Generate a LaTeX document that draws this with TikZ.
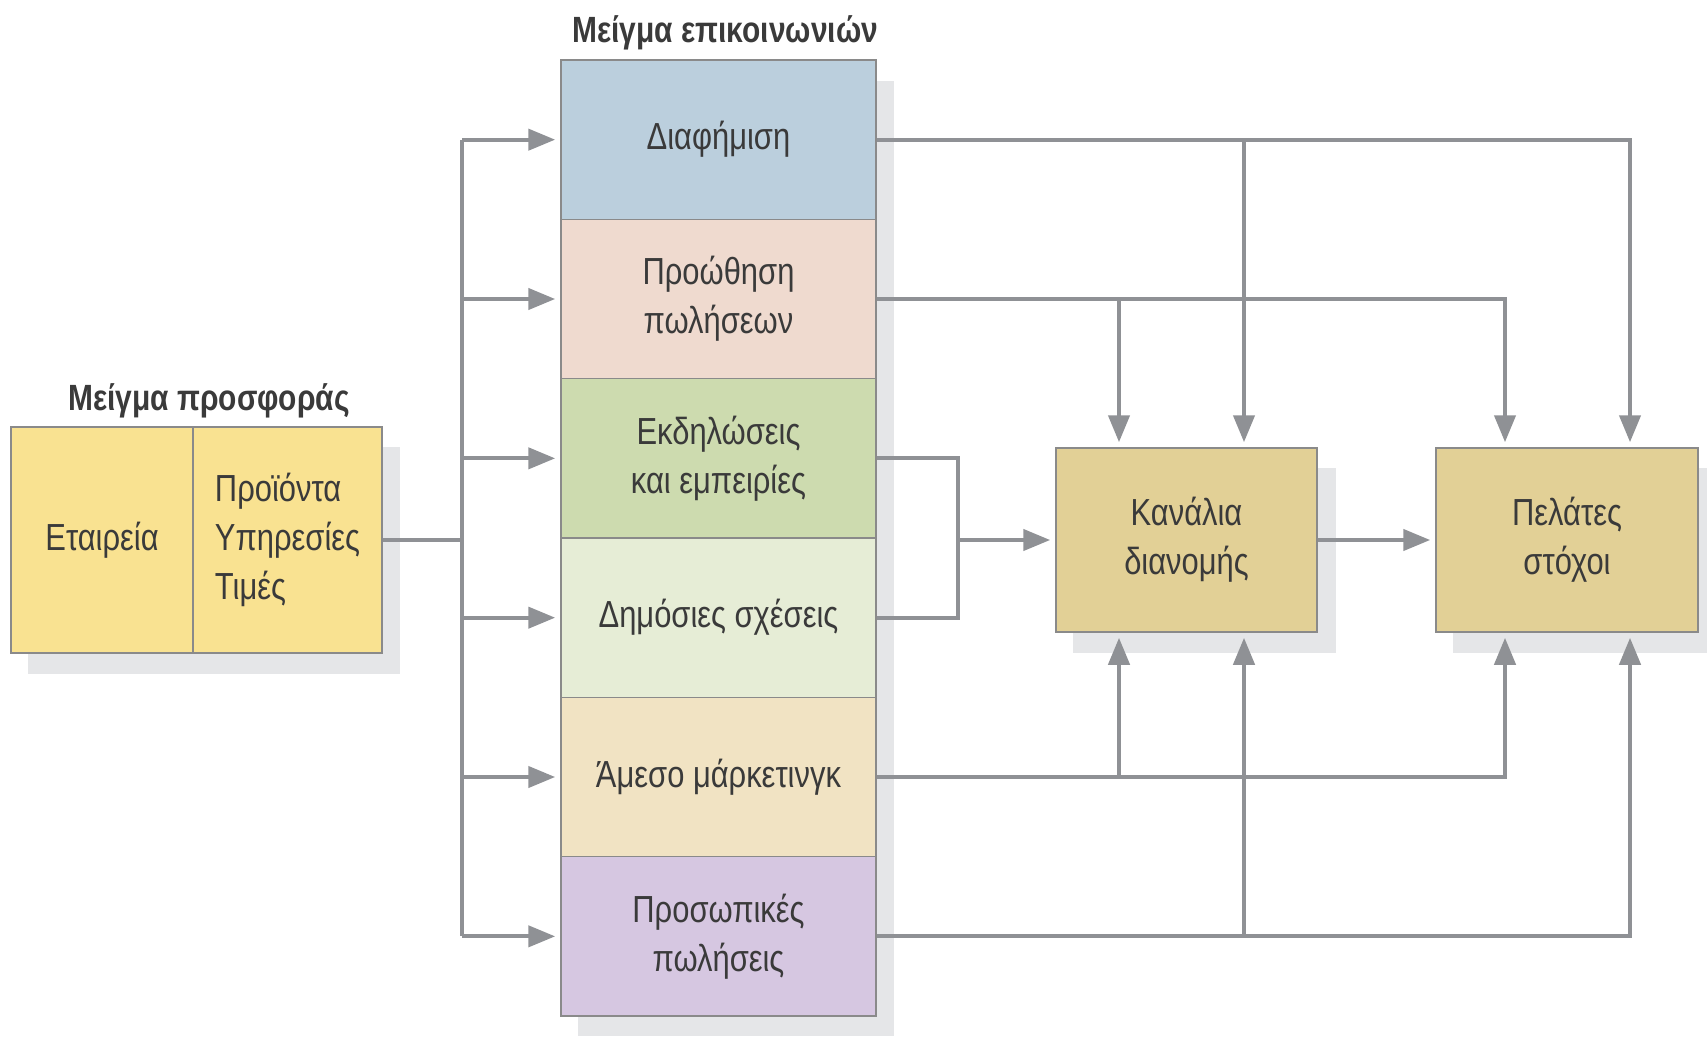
\documentclass[tikz,border=0pt]{standalone}
\usepackage{fontspec}
\setmainfont{Liberation Sans}[FakeStretch=0.82]
\usetikzlibrary{arrows.meta,backgrounds}

\definecolor{linec}{HTML}{8F9195}
\definecolor{edgec}{HTML}{8A8A8A}
\definecolor{shadowc}{HTML}{E5E6E8}
\definecolor{txtc}{HTML}{3A3A3A}
\definecolor{offerc}{HTML}{F9E291}
\definecolor{advc}{HTML}{BBCFDD}
\definecolor{promc}{HTML}{EFDACF}
\definecolor{eventc}{HTML}{CDDBAF}
\definecolor{prc}{HTML}{E6EDD6}
\definecolor{directc}{HTML}{F1E3C3}
\definecolor{sellc}{HTML}{D6C7E1}
\definecolor{targetc}{HTML}{E2D096}

\tikzset{
  txt/.style={font=\fontsize{37.7pt}{49pt}\selectfont, text=txtc, align=center},
  ttl/.style={font=\bfseries\fontsize{36.5pt}{49pt}\selectfont, text=txtc, anchor=base},
  box/.style={txt, draw=edgec, line width=1.5pt, inner sep=0pt},
  rowbox/.style={box, minimum width=315pt, minimum height=159.33pt},
  sidebox/.style={box, fill=targetc, minimum height=184pt},
  wire/.style={draw=linec, line width=4.3pt},
  arr/.style={wire, -{Triangle[length=27pt,width=21pt]}, shorten >=5pt},
}

\begin{document}
\begin{tikzpicture}[x=1pt,y=-1pt]
\useasboundingbox (0,0) rectangle (1707,1036);

% offer mix
\node[box, fill=offerc, minimum width=182pt, minimum height=226pt] (comp) at (102,540) {Εταιρεία};
\node[box, fill=offerc, minimum width=189pt, minimum height=226pt, align=left] (prod) at (287.5,540) {Προϊόντα\\Υπηρεσίες\\Τιμές};
\node[ttl] (offert) at (209,410) {Μείγμα προσφοράς};

% communication mix column
\node[rowbox, fill=advc]    (r1) at (718.5,139.67) {Διαφήμιση};
\node[rowbox, fill=promc]   (r2) at (718.5,299.0)  {Προώθηση\\πωλήσεων};
\node[rowbox, fill=eventc]  (r3) at (718.5,458.33) {Εκδηλώσεις\\και εμπειρίες};
\node[rowbox, fill=prc]     (r4) at (718.5,617.67) {Δημόσιες σχέσεις};
\node[rowbox, fill=directc] (r5) at (718.5,777.0)  {Άμεσο μάρκετινγκ};
\node[rowbox, fill=sellc]   (r6) at (718.5,936.33) {Προσωπικές\\πωλήσεις};
\node[ttl] (commt) at (725,42) {Μείγμα επικοινωνιών};

% channels and target customers
\node[sidebox, minimum width=261pt] (kan) at (1186.5,540) {Κανάλια\\διανομής};
\node[sidebox, minimum width=262pt] (pel) at (1567,540) {Πελάτες\\στόχοι};

% drop shadows
\begin{scope}[on background layer]
  \fill[shadowc] ([xshift=18pt,yshift=-21pt]comp.north west) rectangle ([xshift=17pt,yshift=-20pt]prod.south east);
  \fill[shadowc] ([xshift=18pt,yshift=-22pt]r1.north west) rectangle ([xshift=17pt,yshift=-19pt]r6.south east);
  \fill[shadowc] ([xshift=18pt,yshift=-21pt]kan.north west) rectangle ([xshift=18pt,yshift=-20pt]kan.south east);
  \fill[shadowc] ([xshift=18pt,yshift=-21pt]pel.north west) rectangle ([xshift=18pt,yshift=-20pt]pel.south east);
\end{scope}

% distribution bus on the left
\coordinate (bus) at (462,540);
\draw[wire] (prod.east) -- (bus);
\draw[wire] (r1.west -| bus) -- (r6.west -| bus);
\foreach \r in {r1,r2,r3,r4,r5,r6}
  \draw[arr] (\r.west -| bus) -- (\r.west);

% drop points on the channel and customer boxes
\coordinate (ka) at (1119,0);
\coordinate (kb) at (1244,0);
\coordinate (pa) at (1505,0);
\coordinate (pb) at (1630,0);
\coordinate (br) at (958,540);

% advertising
\draw[arr] (r1.east) -| (pb |- pel.north);
\draw[arr] (r1.east -| kb) -- (kb |- kan.north);
% sales promotion
\draw[arr] (r2.east) -| (pa |- pel.north);
\draw[arr] (r2.east -| ka) -- (ka |- kan.north);
% events and public relations
\draw[wire] (r3.east) -| (br) |- (r4.east);
\draw[arr] (br) -- (kan.west);
% channels to customers
\draw[arr] (kan.east) -- (pel.west);
% direct marketing
\draw[arr] (r5.east) -| (pa |- pel.south);
\draw[arr] (r5.east -| ka) -- (ka |- kan.south);
% personal selling
\draw[arr] (r6.east) -| (pb |- pel.south);
\draw[arr] (r6.east -| kb) -- (kb |- kan.south);
\end{tikzpicture}
\end{document}
